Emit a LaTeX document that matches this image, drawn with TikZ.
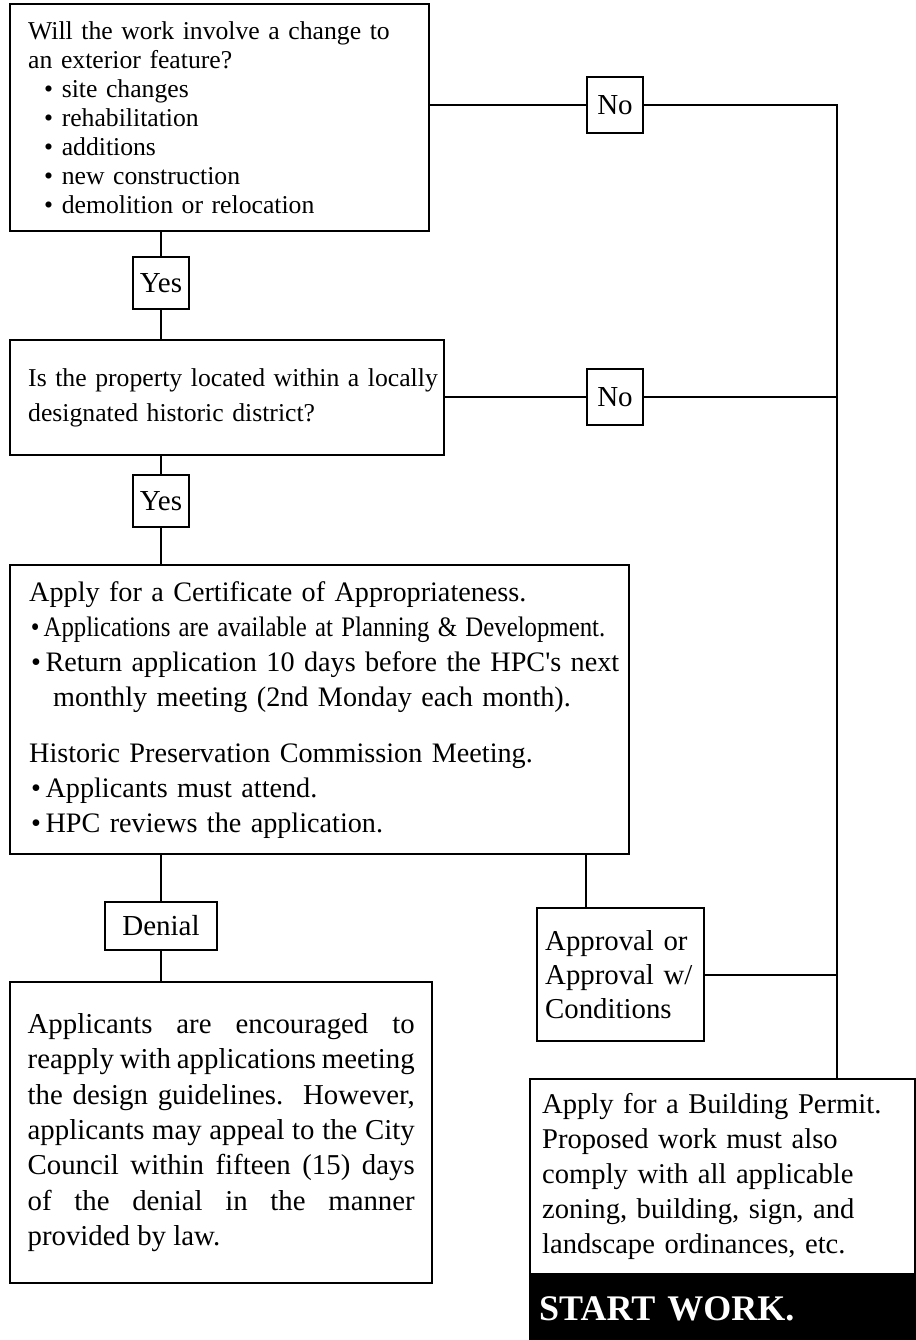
\documentclass[tikz,border=0pt]{standalone}
\usepackage{fontspec}
\setmainfont{Liberation Serif}[Ligatures=TeXOff]
\usepackage{graphicx}
\usetikzlibrary{positioning}

\begin{document}
\begin{tikzpicture}[x=1pt, y=-1pt, line width=2pt,
  box/.style={draw, line width=2.4pt, anchor=north west, inner ysep=0pt, align=left},
  tag/.style={draw, line width=2.4pt, inner sep=0pt, font=\fontsize{29}{35}\selectfont}]
  \useasboundingbox (0,0) rectangle (915,1340);

  \node[box, minimum width=419pt, minimum height=227pt, inner xsep=18pt, text width=383pt,
    font=\fontsize{25.7}{29}\selectfont] (q1) at (9,3)
    {Will the work involve a change to\\
     an exterior feature?\\
     \hspace*{16pt}\textbullet\ site changes\\
     \hspace*{16pt}\textbullet\ rehabilitation\\
     \hspace*{16pt}\textbullet\ additions\\
     \hspace*{16pt}\textbullet\ new construction\\
     \hspace*{16pt}\textbullet\ demolition or relocation};

  \node[box, minimum width=434pt, minimum height=115pt, inner xsep=18pt, text width=398pt,
    font=\fontsize{25.7}{35}\selectfont] (q2) at (9,339)
    {\mbox{Is the property located within a locally}\\
     designated historic district?};

  \node[box, minimum width=619pt, minimum height=289pt, inner xsep=19pt, text width=581pt,
    font=\fontsize{28.2}{35}\selectfont] (apply) at (9,564)
    {Apply for a Certificate of Appropriateness.\\
     \scalebox{0.88}[1]{\hspace*{2pt}\textbullet\hspace{4.5pt}Applications are available at Planning \& Development.}\\
     \mbox{\hspace*{2pt}\textbullet\hspace{4.5pt}Return application 10 days before the HPC's next}\\
     \hspace*{24pt}monthly meeting (2nd Monday each month).\\[21pt]
     Historic Preservation Commission Meeting.\\
     \hspace*{2pt}\textbullet\hspace{4.5pt}Applicants must attend.\\
     \hspace*{2pt}\textbullet\hspace{4.5pt}HPC reviews the application.};

  \node[box, align=justify, minimum width=422pt, minimum height=301pt, inner xsep=17.5pt, text width=387pt,
    font=\fontsize{28.8}{35.3}\selectfont] (deny) at (9,981)
    {\tolerance=10000 Applicants are encouraged to\linebreak
     reapply with applications meeting\linebreak
     the design guidelines.\ \ However,\linebreak
     applicants may appeal to the City\linebreak
     Council within fifteen (15) days\linebreak
     of the denial in the manner\linebreak
     provided by law.};

  \node[box, minimum width=167pt, minimum height=133pt, inner xsep=8pt, text width=151pt,
    font=\fontsize{28.8}{34}\selectfont] (approve) at (536,907)
    {Approval or\\ Approval w/\\ Conditions};

  \node[box, minimum width=385pt, minimum height=195pt, inner xsep=12pt, text width=361pt,
    font=\fontsize{28.6}{35}\selectfont] (permit) at (529,1078)
    {Apply for a Building Permit.\\
     Proposed work must also\\
     comply with all applicable\\
     zoning, building, sign, and\\
     landscape ordinances, etc.};
  \node[box, fill=black, text=white, minimum width=385pt, minimum height=65pt, inner xsep=9pt,
    text width=367pt, font=\fontsize{36}{40}\selectfont\bfseries] (start) at (permit.south west)
    {START WORK.};

  \node[tag, minimum width=56pt, minimum height=56pt] (no1) at (615,105) {No};
  \node[tag, minimum width=56pt, minimum height=56pt] (no2) at (615,397) {No};
  \node[tag, minimum width=56pt, minimum height=52pt] (yes1) at (161,283) {Yes};
  \node[tag, minimum width=56pt, minimum height=52pt] (yes2) at (161,501) {Yes};
  \node[tag, minimum width=112pt, minimum height=48pt] (denial) at (161,926) {Denial};

  \coordinate (rail) at (837,105);
  \coordinate (split) at (586,0);

  \draw (yes1 |- q1.south) -- (yes1.north) (yes1.south) -- (yes1 |- q2.north);
  \draw (yes2 |- q2.south) -- (yes2.north) (yes2.south) -- (yes2 |- apply.north);
  \draw (denial |- apply.south) -- (denial.north) (denial.south) -- (denial |- deny.north);
  \draw (q1.east |- no1) -- (no1.west) (no1.east) -- (rail) -- (rail |- permit.north);
  \draw (q2.east |- no2) -- (no2.west) (no2.east) -- (no2 -| rail);
  \draw (apply.south -| split) -- (approve.north -| split);
  \draw (approve.east) -- (approve.east -| rail);
\end{tikzpicture}
\end{document}
